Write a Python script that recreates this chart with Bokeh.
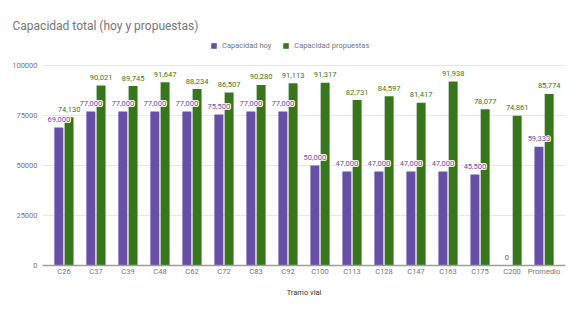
from bokeh.plotting import figure
from bokeh.models import (ColumnDataSource, FactorRange, Range1d, FixedTicker,
                          PrintfTickFormatter, Legend, LegendItem)
from bokeh.transform import dodge
from bokeh.embed import file_html
from bokeh.resources import INLINE
from bokeh.core.properties import value

categories = ["C26", "C37", "C39", "C48", "C62", "C72", "C83", "C92", "C100",
              "C113", "C128", "C147", "C163", "C175", "C200", "Promedio"]
hoy = [69000, 77000, 77000, 77000, 77000, 75500, 77000, 77000, 50000,
       47000, 47000, 47000, 47000, 45500, 0, 59333]
propuestas = [74130, 90021, 89745, 91647, 88234, 86507, 90280, 91113, 91317,
              82731, 84597, 81417, 91938, 78077, 74861, 85774]
y_ticks = [0, 25000, 50000, 75000, 100000]
series_names = ["Capacidad hoy", "Capacidad propuestas"]
title_text = "Capacidad total (hoy y propuestas)"
x_label = "Tramo vial"

PURPLE = "#674ea7"
GREEN = "#38761d"
GRAY = "#757575"

src = ColumnDataSource(dict(
    cat=categories, hoy=hoy, prop=propuestas,
    hoy_lbl=[f"{v:,}" for v in hoy],
    prop_lbl=[f"{v:,}" for v in propuestas],
))

p = figure(width=570, height=305, title=title_text,
           x_range=FactorRange(factors=categories, range_padding=0.17,
                               range_padding_units="absolute"),
           y_range=Range1d(0, 116500),
           output_backend="svg", toolbar_location=None,
           min_border_left=42, min_border_right=5, min_border_top=32,
           min_border_bottom=40)
p.outline_line_color = None
p.background_fill_color = "white"
p.border_fill_color = "white"

p.title.align = "left"
p.title.offset = -30
p.title.standoff = 0
p.title.text_font_size = "12px"
p.title.text_font_style = "normal"
p.title.text_color = GRAY
p.title.text_font = "Roboto"

r1 = p.vbar(x=dodge("cat", -0.16, range=p.x_range), top="hoy", width=0.28,
            source=src, fill_color=PURPLE, line_color=None)
r2 = p.vbar(x=dodge("cat", 0.16, range=p.x_range), top="prop", width=0.28,
            source=src, fill_color=GREEN, line_color=None)

p.text(x=dodge("cat", 0.16, range=p.x_range), y="prop", text="prop_lbl", source=src,
       text_align="center", text_baseline="alphabetic", y_offset=-8,
       text_font_size="7.5px", text_color=GREEN, text_font=value("Roboto"))

# white halo behind purple labels
for dx, dy in [(-1, 0), (1, 0), (0, -1), (0, 1), (-0.8, -0.8), (0.8, -0.8),
               (-0.8, 0.8), (0.8, 0.8)]:
    p.text(x=dodge("cat", -0.16, range=p.x_range), y="hoy", text="hoy_lbl", source=src,
           text_align="center", text_baseline="alphabetic", y_offset=-8 + dy,
           x_offset=dx, text_font_size="7.5px", text_color="white",
           text_font=value("Roboto"))
p.text(x=dodge("cat", -0.16, range=p.x_range), y="hoy", text="hoy_lbl", source=src,
       text_align="center", text_baseline="alphabetic", y_offset=-8,
       text_font_size="7.5px", text_color=PURPLE, text_font=value("Roboto"))

# axes
p.xgrid.grid_line_color = None
p.ygrid.ticker = FixedTicker(ticks=y_ticks)
p.ygrid.grid_line_color = "#e6e6e6"
p.yaxis.ticker = FixedTicker(ticks=y_ticks)
p.yaxis.formatter = PrintfTickFormatter(format="%d")
p.yaxis.axis_line_color = None
p.yaxis.major_tick_line_color = None
p.yaxis.minor_tick_line_color = None
p.yaxis.major_tick_out = 0
p.yaxis.major_tick_in = 0
p.yaxis.minor_tick_out = 0
p.yaxis.major_label_standoff = 5
p.yaxis.major_label_text_font_size = "7.5px"
p.yaxis.major_label_text_color = GRAY
p.yaxis.major_label_text_font = "Roboto"

p.xaxis.axis_line_color = "#9e9e9e"
p.xaxis.axis_line_width = 1.5
p.xaxis.major_tick_line_color = None
p.xaxis.minor_tick_line_color = None
p.xaxis.major_tick_out = 0
p.xaxis.major_tick_in = 0
p.xaxis.minor_tick_out = 0
p.xaxis.major_label_standoff = 1
p.xaxis.major_label_text_font_size = "7.5px"
p.xaxis.major_label_text_color = GRAY
p.xaxis.major_label_text_font = "Roboto"
p.xaxis.axis_label = x_label
p.xaxis.axis_label_standoff = 9
p.xaxis.axis_label_text_font_size = "7.5px"
p.xaxis.axis_label_text_font_style = "normal"
p.xaxis.axis_label_text_color = "#333333"
p.xaxis.axis_label_text_font = "Roboto"

legend = Legend(items=[LegendItem(label=series_names[0], renderers=[r1]),
                       LegendItem(label=series_names[1], renderers=[r2])],
                location=(168, 215), orientation="horizontal",
                glyph_width=7, glyph_height=7, label_standoff=5, spacing=11,
                padding=0, margin=0, border_line_alpha=0, background_fill_alpha=0,
                label_text_font_size="7.5px", label_text_color=GRAY,
                label_height=7, label_text_font="Roboto")
p.add_layout(legend)

open("out.html", "w").write(file_html(p, INLINE))
